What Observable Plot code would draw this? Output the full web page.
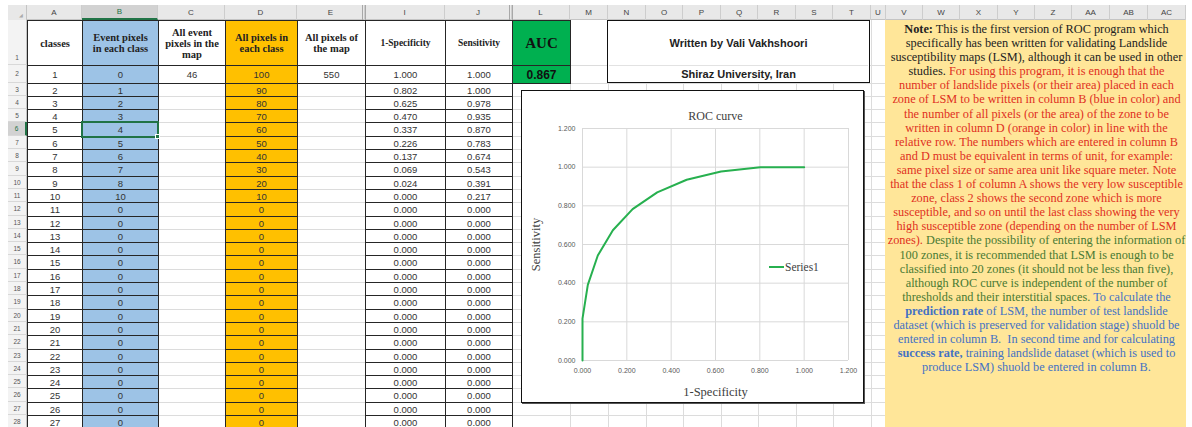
<!DOCTYPE html>
<html><head><meta charset="utf-8">
<script src="https://cdn.jsdelivr.net/npm/d3@7"></script>
<script src="https://cdn.jsdelivr.net/npm/@observablehq/plot@0.6"></script>
<style>
html,body{margin:0;padding:0;background:#fff;}
#sheet{position:relative;width:1192px;height:427px;overflow:hidden;background:#fff;font-family:'Liberation Sans',Arial,sans-serif;}
.c{position:absolute;box-sizing:border-box;display:flex;align-items:center;justify-content:center;text-align:center;white-space:nowrap;}
.red{color:#e0301e}.green{color:#4a7a33}.blue{color:#4472c4}
</style></head><body><div id="sheet"></div>
<script>
// ---------- data ----------
const classes = [1,2,3,4,5,6,7,8,9,10,11,12,13,14,15,16,17,18,19,20,21,22,23,24,25,26,27];
const eventPixels = [0,1,2,3,4,5,6,7,8,10,0,0,0,0,0,0,0,0,0,0,0,0,0,0,0,0,0];
const allPixels = [100,90,80,70,60,50,40,30,20,10,0,0,0,0,0,0,0,0,0,0,0,0,0,0,0,0,0];
const allEventPixels = 46;
const allMapPixels = 550;
const oneMinusSpecificity = [1.000,0.802,0.625,0.470,0.337,0.226,0.137,0.069,0.024,0.000,0.000,0.000,0.000,0.000,0.000,0.000,0.000,0.000,0.000,0.000,0.000,0.000,0.000,0.000,0.000,0.000,0.000];
const sensitivity = [1.000,1.000,0.978,0.935,0.870,0.783,0.674,0.543,0.391,0.217,0.000,0.000,0.000,0.000,0.000,0.000,0.000,0.000,0.000,0.000,0.000,0.000,0.000,0.000,0.000,0.000,0.000];
const auc = 0.867;
const axisTicks = [0, 0.2, 0.4, 0.6, 0.8, 1.0, 1.2];
const seriesName = "Series1";

// ---------- sheet layout ----------
const sheet = document.getElementById("sheet");
function box(x,y,w,h,style,html){
  const d=document.createElement("div"); d.className="c";
  d.style.cssText += `left:${x}px;top:${y}px;width:${w}px;height:${h}px;` + (style||"");
  if(html!=null) d.innerHTML=html; sheet.appendChild(d); return d;
}
const cols = [["A",27,82],["B",82,158],["C",158,225],["D",225,297],["E",297,365],["I",365,445],["J",445,512],["L",512,570],["M",570,608],["N",608,646],["O",646,683],["P",683,721],["Q",721,758],["R",758,796],["S",796,833],["T",833,871],["U",871,886],["V",886,923],["W",923,960],["X",960,998],["Y",998,1035],["Z",1035,1072],["AA",1072,1110],["AB",1110,1148],["AC",1148,1186]];
const col = n => cols.find(c=>c[0]===n);
const RH = 13.3;
const rowTop = r => r===1?20:r===2?65:Math.round(82.5+(r-3)*RH);
const rowBot = r => r===1?65:r===2?83:Math.round(82.5+(r-2)*RH);

// gridlines
for(let r=1;r<=28;r++) box(27,rowBot(r),859,1,"background:#dcdcdc");
for(const c of cols) if(c[2]<886) box(c[2],20,1,407,"background:#dcdcdc");

// column header strip
box(8,5,1178,15,"background:#e8e8e8;border-bottom:1px solid #c4c4c4");
box(8,5,19,15,"background:#e8e8e8;border-right:1px solid #c4c4c4;justify-content:flex-end;align-items:flex-end;padding:0 3px 2px 0;font-size:5px;color:#aaa","◢");
for(const [n,x0,x1] of cols){
  const sel = n==="B";
  box(x0,5,x1-x0,15,`border-right:1px solid #cdcdcd;font-size:8px;color:${sel?"#217346":"#444"};`+(sel?"background:#d2d2d2;border-bottom:2px solid #217346;":""),n);
}
box(362,5,4,15,"border-left:1px solid #a8a8a8;border-right:1px solid #a8a8a8");
box(509,5,4,15,"border-left:1px solid #a8a8a8;border-right:1px solid #a8a8a8");

// row headers
for(let r=1;r<=28;r++){
  const sel = r===6;
  box(8,rowTop(r),19,rowBot(r)-rowTop(r),`background:${sel?"#d2d2d2":"#f3f3f3"};border-bottom:1px solid #d8d8d8;border-right:${sel?"2px solid #217346":"1px solid #c4c4c4"};font-size:6.5px;color:${sel?"#217346":"#555"};`+(r===1?"align-items:flex-end;padding-bottom:3px;":""),String(r));
}

// table cells
const blue="#9dc3e6", orange="#ffc000", green="#00b050";
const hdrFont="font-family:'Liberation Serif',serif;font-weight:bold;font-size:10.5px;line-height:11px;color:#222;";
const dataFont="font-size:9.5px;color:#333;";
function tcell(n,r,fill,html,st){
  const [,x0,x1]=col(n); const y0=rowTop(r), y1=rowBot(r);
  return box(x0,y0,x1-x0+1,y1-y0+1,`border:1px solid #262626;background:${fill||"#fff"};`+(st||""),html);
}
tcell("A",1,null,"classes",hdrFont);
tcell("B",1,blue,"Event pixels<br>in each class",hdrFont);
tcell("C",1,null,"All event<br>pixels in the<br>map",hdrFont);
tcell("D",1,orange,"All pixels in<br>each class",hdrFont);
tcell("E",1,null,"All pixels of<br>the map",hdrFont);
tcell("I",1,null,"1-Specificity",hdrFont+"font-size:9.5px;");
tcell("J",1,null,"Sensitivity",hdrFont+"font-size:9.5px;");
tcell("L",1,green,"AUC",hdrFont+"font-size:15px;color:#111;");
const f3 = d3.format(".3f");
classes.forEach((cl,i)=>{
  const r=i+2;
  tcell("A",r,null,String(cl),dataFont);
  tcell("B",r,blue,String(eventPixels[i]),dataFont);
  tcell("D",r,orange,String(allPixels[i]),dataFont);
  tcell("I",r,null,f3(oneMinusSpecificity[i]),dataFont);
  tcell("J",r,null,f3(sensitivity[i]),dataFont);
});
tcell("C",2,null,String(allEventPixels),dataFont);
tcell("E",2,null,String(allMapPixels),dataFont);
tcell("L",2,green,f3(auc),"font-weight:bold;font-size:12px;color:#111;");
// selected cell B6
box(81,rowTop(6)-1,78,rowBot(6)-rowTop(6)+3,"border:2px solid #217346");
box(155,rowBot(6)-2,5,5,"background:#217346;border:1px solid #fff");

// written-by box
box(607,20,263,63,"background:#fff;border:1.5px solid #111");
box(609,65,259,1,"background:#e2e2e2");
box(607,35,263,16,"font-weight:bold;font-size:11px;color:#222","Written by Vali Vakhshoori");
box(607,66,263,16,"font-weight:bold;font-size:11px;color:#222","Shiraz University, Iran");

// note box
box(885,20,301,407,"background:#ffe699");
const noteHTML = [
 "<b>Note:</b> This is the first version of ROC program which",
 "specifically has been written for validating Landslide",
 "susceptibility maps (LSM), although it can be used in other",
 "studies. <span class='red'>For using this program, it is enough that the</span>",
 "<span class='red'>number of landslide pixels (or their area) placed in each</span>",
 "<span class='red'>zone of LSM to be written in column B (blue in color) and</span>",
 "<span class='red'>the number of all pixels (or the area) of the zone to be</span>",
 "<span class='red'>written in column D (orange in color) in line with the</span>",
 "<span class='red'>relative row. The numbers which are entered in column B</span>",
 "<span class='red'>and D must be equivalent in terms of unit, for example:</span>",
 "<span class='red'>same pixel size or same area unit like square meter. Note</span>",
 "<span class='red'>that the class 1 of column A shows the very low susceptible</span>",
 "<span class='red'>zone, class 2 shows the second zone which is more</span>",
 "<span class='red'>susceptible, and so on until the last class showing the very</span>",
 "<span class='red'>high susceptible zone (depending on the number of LSM</span>",
 "<span class='red'>zones).</span> <span class='green'>Despite the possibility of entering the information of</span>",
 "<span class='green'>100 zones, it is recommended that LSM is enough to be</span>",
 "<span class='green'>classified into 20 zones (it should not be less than five),</span>",
 "<span class='green'>although ROC curve is independent of the number of</span>",
 "<span class='green'>thresholds and their interstitial spaces.</span> <span class='blue'>To calculate the</span>",
 "<span class='blue'><b>prediction rate</b> of LSM, the number of test landslide</span>",
 "<span class='blue'>dataset (which is preserved for validation stage) shuold be</span>",
 "<span class='blue'>entered in column B.&nbsp; In second time and for calculating</span>",
 "<span class='blue'><b>success rate,</b> training landslide dataset (which is used to</span>",
 "<span class='blue'>produce LSM) shuold be entered in column B.</span>"
].join("<br>");
box(885,22,303,380,"display:block;font-family:'Liberation Serif',serif;font-size:12.3px;line-height:14.1px;color:#222;text-align:center",noteHTML);

// chart box
box(521,90,343,313,"background:#fff;border:1.5px solid #111;box-shadow:1px 1px 0 #555");

// ---------- ROC chart (Observable Plot) ----------
const points = oneMinusSpecificity.map((x,i)=>({x, y: sensitivity[i]}));
const serif = "'Liberation Serif', serif";
const chart = Plot.plot({
  width: 343, height: 313,
  marginLeft: 61, marginRight: 16, marginTop: 38, marginBottom: 43,
  x: {domain: [0, 1.2]},
  y: {domain: [0, 1.2]},
  style: {fontFamily: "'Liberation Sans', Arial, sans-serif", fontSize: "7px", background: "transparent", color: "#595959", overflow: "visible"},
  marks: [
    Plot.gridX(axisTicks, {stroke: "#d9d9d9", strokeOpacity: 1}),
    Plot.gridY(axisTicks, {stroke: "#d9d9d9", strokeOpacity: 1}),
    Plot.axisX(axisTicks, {tickSize: 0, tickPadding: 8, tickFormat: f3, label: null, fill: "#595959", fontSize: 7}),
    Plot.axisY(axisTicks, {tickSize: 0, tickPadding: 7, tickFormat: f3, label: null, fill: "#595959", fontSize: 7}),
    Plot.axisX([], {tickSize: 0, label: "1-Specificity", labelAnchor: "center", labelArrow: "none", labelOffset: 35, fontFamily: serif, fontSize: 12.5, fill: "#404040"}),
    Plot.axisY([], {tickSize: 0, label: "Sensitivity", labelAnchor: "center", labelArrow: "none", labelOffset: 51, fontFamily: serif, fontSize: 12.5, fill: "#404040"}),
    Plot.line(points, {x: "x", y: "y", stroke: "#27b04f", strokeWidth: 2}),
    Plot.text(["ROC curve"], {text: d => d, frameAnchor: "top", dy: -17, fontFamily: serif, fontSize: 12, fill: "#404040"})
  ]
});
chart.style.position = "absolute";
chart.style.left = "521px";
chart.style.top = "90px";
sheet.appendChild(chart);

// legend
box(769,266,15,2,"background:#27b04f");
box(785,259,60,16,"justify-content:flex-start;font-family:'Liberation Serif',serif;font-size:11.5px;color:#404040",seriesName);
</script></body></html>
